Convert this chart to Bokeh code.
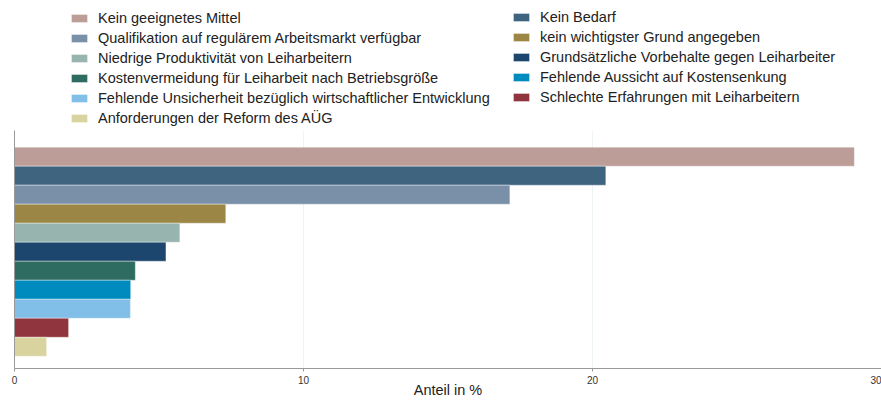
from bokeh.plotting import figure
from bokeh.layouts import column
from bokeh.models import ColumnDataSource, Legend, LegendItem, Range1d, FixedTicker
from bokeh.embed import file_html
from bokeh.resources import INLINE

categories = [
    "Kein geeignetes Mittel",
    "Kein Bedarf",
    "Qualifikation auf regulärem Arbeitsmarkt verfügbar",
    "kein wichtigster Grund angegeben",
    "Niedrige Produktivität von Leiharbeitern",
    "Grundsätzliche Vorbehalte gegen Leiharbeiter",
    "Kostenvermeidung für Leiharbeit nach Betriebsgröße",
    "Fehlende Aussicht auf Kostensenkung",
    "Fehlende Unsicherheit bezüglich wirtschaftlicher Entwicklung",
    "Schlechte Erfahrungen mit Leiharbeitern",
    "Anforderungen der Reform des AÜG",
]
values = [29.06, 20.46, 17.14, 7.31, 5.72, 5.24, 4.18, 4.02, 4.01, 1.87, 1.11]
colors = ["#BC9D97", "#3E6480", "#7A8FA8", "#9B8646", "#97B5AE", "#1C466D",
          "#2E6B60", "#008BBE", "#82BFE8", "#90353D", "#D9D49F"]
x_ticks = [0, 10, 20, 30]

n = len(categories)
positions = [n - 1 - i for i in range(n)]

# ---------- legend strip ----------
leg = figure(width=881, height=130, output_backend="svg", toolbar_location=None,
             x_range=Range1d(0, 1), y_range=Range1d(0, 1),
             min_border=0, min_border_left=0, min_border_right=0,
             min_border_top=0, min_border_bottom=0)
leg.axis.visible = False
leg.grid.visible = False
leg.outline_line_color = None

leg_renderers = []
for i, c in enumerate(colors):
    src = ColumnDataSource(dict(y=[positions[i]], right=[values[i]]))
    r = leg.hbar(y="y", left=0, right="right", height=1.0, source=src,
                 fill_color=c, line_color="white", line_alpha=0.35, line_width=1)
    r.visible = False
    leg_renderers.append(r)

def make_legend(idx, loc):
    return Legend(items=[LegendItem(label=categories[i], renderers=[leg_renderers[i]]) for i in idx],
                  location=loc, border_line_color=None, background_fill_alpha=0,
                  inactive_fill_alpha=0,
                  label_text_font="Liberation Sans", label_text_font_size="14.5px",
                  label_text_color="#222222", glyph_width=20, glyph_height=10,
                  label_height=14, spacing=4, label_standoff=9, padding=0, margin=0)

leg.add_layout(make_legend([0, 2, 4, 6, 8, 10], (55, 4.5)), "center")
leg.add_layout(make_legend([1, 3, 5, 7, 9], (497, 25.5)), "center")

# ---------- bar chart ----------
p = figure(width=881, height=270, output_backend="svg", toolbar_location=None,
           x_range=Range1d(0, 30), y_range=Range1d(-1.144, 11.375),
           min_border_left=14, min_border_right=0, min_border_top=0, min_border_bottom=0)
p.outline_line_color = None
p.background_fill_color = "white"

for i, (v, c) in enumerate(zip(values, colors)):
    src = ColumnDataSource(dict(y=[positions[i]], right=[v]))
    p.hbar(y="y", left=0, right="right", height=1.0, source=src,
           fill_color=c, line_color="white", line_alpha=0.35, line_width=1)

p.xaxis.ticker = FixedTicker(ticks=x_ticks)
p.xaxis.axis_label = "Anteil in %"
p.xaxis.axis_label_text_font = "Liberation Sans"
p.xaxis.axis_label_text_font_style = "normal"
p.xaxis.axis_label_text_font_size = "14.5px"
p.xaxis.axis_label_text_color = "#222222"
p.xaxis.axis_label_standoff = -5
p.xaxis.major_label_text_font = "Liberation Sans"
p.xaxis.major_label_text_font_size = "10px"
p.xaxis.major_label_text_color = "#333333"
p.xaxis.major_label_standoff = 4
p.xaxis.axis_line_color = "#999999"
p.xaxis.major_tick_line_color = "#999999"
p.xaxis.major_tick_out = 3
p.xaxis.major_tick_in = 0
p.xaxis.minor_tick_line_color = None

p.yaxis.ticker = FixedTicker(ticks=[])
p.yaxis.axis_line_color = "#999999"
p.yaxis.major_label_text_font_size = "0px"
p.yaxis.major_tick_line_color = None
p.yaxis.minor_tick_line_color = None

p.xgrid.ticker = FixedTicker(ticks=x_ticks)
p.xgrid.grid_line_color = "#EEF3F3"
p.ygrid.grid_line_color = None

layout = column(leg, p, spacing=0)
open("out.html", "w").write(file_html(layout, INLINE))
